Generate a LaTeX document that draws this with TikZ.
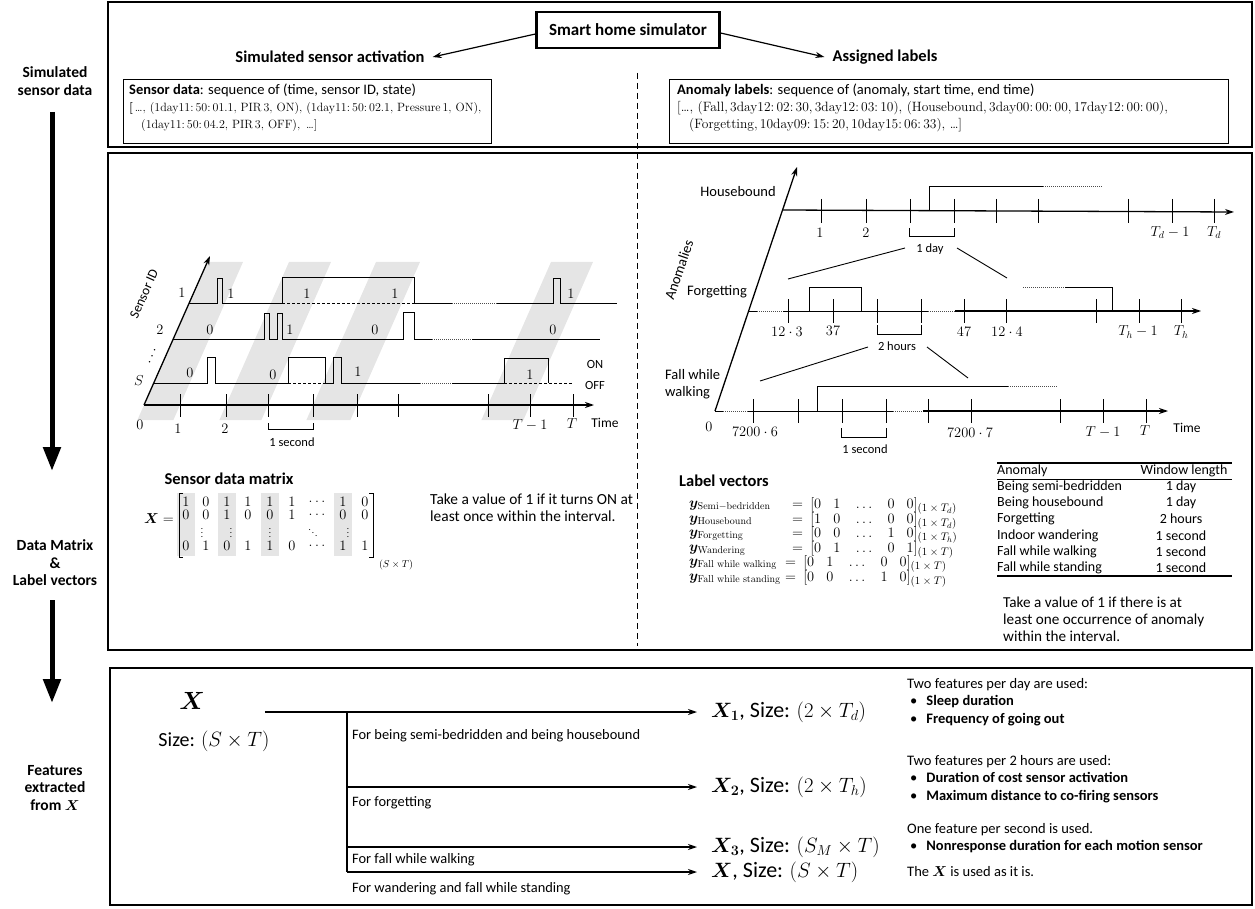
\documentclass[tikz,border=0pt]{standalone}
\usepackage{amsmath}
\usepackage{bm}
\usepackage[no-math]{fontspec}
\setmainfont{Carlito}
\newfontfamily\lmr{Latin Modern Roman}
\usetikzlibrary{arrows.meta}
\newcommand\fsz[2]{\fontsize{#1}{#2}\selectfont}
\newcommand\subsz[1]{\mbox{\fsz{11}{12}$#1$}}
\newcommand\lvec[5]{=\ [#1\hspace{12pt}#2\hspace{13pt}#3\hspace{13pt}#4\hspace{12pt}#5]}
\tikzset{
  txt/.style={inner sep=0pt, font=\fsz{13.5}{16}},
  lab/.style={inner sep=0pt, font=\fsz{14.5}{17}},
  head/.style={inner sep=0pt, font=\fsz{16.5}{19}\bfseries},
  side/.style={inner sep=0pt, font=\fsz{15.5}{17.5}\bfseries, align=center},
  sml/.style={inner sep=0pt, font=\fsz{12.5}{14}},
  mth/.style={inner sep=0pt, font=\fsz{14}{15}},
  vmth/.style={inner sep=0pt, font=\fsz{14}{15}},
  tab/.style={inner sep=0pt, font=\fsz{14}{15}},
  simbox/.style={draw, line width=2.2pt, minimum width=183pt, minimum height=36pt, inner sep=0pt, font=\fsz{17}{19}\bfseries},
  databox/.style={draw, line width=1pt, inner sep=0pt, anchor=north west},
  boxtext/.style={inner sep=0pt, align=left, anchor=west, font=\fsz{14.5}{17}},
  panel/.style={draw, line width=1.6pt},
  sep/.style={line width=1pt, dash pattern=on 6pt off 4pt},
  axis/.style={line width=1.3pt, -{Stealth[length=9pt,width=6pt]}},
  sig/.style={line width=0.9pt},
  dsig/.style={line width=0.9pt, dash pattern=on 3pt off 2pt},
  osig/.style={line width=0.9pt, black!70, dash pattern=on 1pt off 1pt},
  tk/.style={line width=0.9pt},
  band/.style={fill=black!10},
  conn/.style={line width=1.2pt, -{Stealth[length=9pt,width=6pt]}},
  big/.style={line width=5pt, -{Triangle[length=24pt,width=17pt]}},
  feat/.style={inner sep=0pt, font=\fsz{22}{24}, anchor=west},
  forl/.style={inner sep=0pt, font=\fsz{14.4}{16}, anchor=west},
  note/.style={inner sep=0pt, font=\fsz{14.5}{17.5}, align=left, anchor=west},
}
\begin{document}
\begin{tikzpicture}[x=1pt,y=-1pt]
\useasboundingbox (0,0) rectangle (1255,909);
% ---------- panels
\draw[panel] (108,2) rectangle (1252,147);
\draw[panel] (108,153) rectangle (1252,650);
\draw[panel] (110,668) rectangle (1252,905);
\draw[sep] (637,73) -- (637,646);
% ---------- left column
\node[side] (lsim) at (55,81) {Simulated\\sensor data};
\node[side] (ldm) at (55,563) {Data Matrix\\\&\\Label vectors};
\node[side] (lfe) at (55,788) {Features\\extracted\\from $\bm{X}$};
\draw[big, shorten <=31pt, shorten >=92pt] (lsim.center -| 52,0) -- (ldm.center -| 52,0);
\draw[big, shorten <=37pt, shorten >=85pt] (ldm.center -| 52,0) -- (lfe.center -| 52,0);
% ---------- top panel
\node[simbox] (sim) at (628,30) {Smart home simulator};
\node[head] (ssa) at (330,57) {Simulated sensor activation};
\node[head] (asl) at (885,57) {Assigned labels};
\draw[conn] (sim.west) ++(0,4) -- ([xshift=8pt]ssa.east);
\draw[conn] (sim.east) ++(0,3) -- ([xshift=-8pt]asl.west);
\node[databox, minimum width=368pt, minimum height=64pt] (sd) at (123,79) {};
\node[boxtext] (sdt) at (129,108)
 {\mbox{\textbf{Sensor data}: sequence of (time, sensor ID, state)}\\
  \mbox{\lmr\fsz{12}{17}\textbf{[}\,…, (1day11:\,50:\,01.1, PIR\,3, ON), (1day11:\,50:\,02.1, Pressure\,1, ON),}\\
  \mbox{\lmr\fsz{12}{17}\hspace*{12pt}(1day11:\,50:\,04.2, PIR\,3, OFF), \,…]}};
\node[databox, minimum width=559pt, minimum height=64pt] (ad) at (669,79) {};
\node[boxtext] (adt) at (677,108)
 {\mbox{\textbf{Anomaly labels}: sequence of (anomaly, start time, end time)}\\
  \mbox{\lmr\fsz{13.5}{17}[…, (Fall,\,3day12:\,02:\,30,\,3day12:\,03:\,10), (Housebound,\,3day00:\,00:\,00,\,17day12:\,00:\,00),}\\
  \mbox{\lmr\fsz{13.5}{17}\hspace*{12pt}(Forgetting,\,10day09:\,15:\,20,\,10day15:\,06:\,33), …]}};
% ---------- sensor timing diagram
\foreach \a/\b in {144/180,226/268,313/357,488/530}{
  \fill[band] (\a-6.6,420) -- (\b-6.6,420) -- (\b+63,262) -- (\a+63,262) -- cycle;
}
\draw[axis] (144,405) -- (594,405);
\draw[axis] (144,405) -- (210,256);
\node[inner sep=0pt, font=\fsz{13.5}{14}, rotate=66] (sid) at (144,294) {Sensor ID};
% row 1
\draw[sig] (189,303) -- (217,303) -- (217,278) -- (222,278) -- (222,303) -- (282,303) -- (282,277) -- (414,277) -- (414,303) -- (452,303);
\draw[dsig] (282,303) -- (414,303);
\draw[osig] (452,303) -- (497,303);
\draw[sig] (497,303) -- (553,303) -- (553,278) -- (560,278) -- (560,303) -- (617,303);
% row 2
\draw[sig] (173,339) -- (264,339) -- (264,313) -- (269,313) -- (269,339) -- (277,339) -- (277,313) -- (282,313) -- (282,339) -- (403,339) -- (403,312) -- (414,312) -- (414,339) -- (432,339);
\draw[osig] (432,339) -- (472,339);
\draw[sig] (472,339) -- (600,339);
% row S
\draw[sig] (154,383) -- (207,383) -- (207,357) -- (215,357) -- (215,383) -- (288,383) -- (288,357) -- (325,357) -- (325,383) -- (333,383) -- (333,357) -- (341,357) -- (341,383) -- (420,383);
\draw[dsig] (288,383) -- (325,383);
\draw[osig] (420,383) -- (452,383);
\draw[sig] (452,383) -- (504,383) -- (504,358) -- (548,358) -- (548,383);
\draw[dsig] (504,383) -- (573,383);
% row labels
\node[mth] (r1) at (182,293) {$1$};
\node[mth] (r2) at (160,330) {$2$};
\node[mth, rotate=66] (rd) at (153,355) {$\cdots$};
\node[mth] (rs) at (139,381) {$S$};
% pulse values
\node[mth] (v11) at (231,294) {$1$};
\node[mth] (v12) at (307,294) {$1$};
\node[mth] (v13) at (395,294) {$1$};
\node[mth] (v14) at (571,294) {$1$};
\node[mth] (v21) at (210,330) {$0$};
\node[mth] (v22) at (290,330) {$1$};
\node[mth] (v23) at (375,330) {$0$};
\node[mth] (v24) at (553,330) {$0$};
\node[mth] (v31) at (190,373) {$0$};
\node[mth] (v32) at (273,375) {$0$};
\node[mth] (v33) at (358,372) {$1$};
\node[mth] (v34) at (530,375) {$1$};
\node[sml] (on) at (595,364) {ON};
\node[sml] (off) at (595,385) {OFF};
% ticks
\foreach \x in {180,226,268,313,357,398,488,530,573} \draw[tk] (\x,394) -- (\x,417);
\node[mth] (t0) at (140,425) {$0$};
\node[mth] (t1) at (178,429) {$1$};
\node[mth] (t2) at (225,429) {$2$};
\node[mth] (tT1) at (530,425) {$T-1$};
\node[mth] (tT) at (572,424) {$T$};
\node[txt] (time1) at (605,423) {Time};
\draw[tk] (268,423) -- (268,429) -- (313,429) -- (313,423);
\node[sml] (sec1) at (292,442) {1 second};
% ---------- anomaly diagram
\draw[axis] (715,411) -- (797,167);
\node[lab, rotate=71] (anom) at (679,270) {Anomalies};
% housebound
\node[lab] (hb) at (738,192) {Housebound};
\draw[axis] (783,210) -- (1234,212);
\foreach \x in {821,866,910,954,996,1038,1128,1172,1214} \draw[tk] (\x,199) -- (\x,223);
\node[mth] (h1) at (820,233) {$1$};
\node[mth] (h2) at (866,233) {$2$};
\node[mth] (hT1) at (1170,233) {$T_d-1$};
\node[mth] (hT) at (1214,233) {$T_d$};
\draw[tk] (909,228) -- (909,236) -- (954,236) -- (954,228);
\node[sml] (day) at (930,249) {1 day};
\draw[sig] (929,211) -- (929,186) -- (1043,186);
\draw[osig] (1043,186) -- (1103,186);
\draw[sig] (788,279) -- (905,248);
\draw[sig] (957,248) -- (1007,278);
% forgetting
\node[lab] (fg) at (717,292) {Forgetting};
\draw[sig] (748,311) -- (757,311);
\draw[osig] (757,311) -- (783,311);
\draw[sig] (783,311) -- (928,311);
\draw[osig] (928,311) -- (955,311);
\draw[axis] (955,311) -- (1201,311);
\foreach \x in {788,833,877,921,964,1006,1096,1139,1181} \draw[tk] (\x,299) -- (\x,323);
\draw[sig] (809,311) -- (809,287) -- (861,287) -- (861,311);
\draw[osig] (1023,287) -- (1065,287);
\draw[sig] (1065,287) -- (1112,287) -- (1112,311);
\node[mth] (f1) at (787,332) {$12\cdot 3$};
\node[mth] (f2) at (833,331) {$37$};
\node[mth] (f3) at (964,332) {$47$};
\node[mth] (f4) at (1007,332) {$12\cdot 4$};
\node[mth] (fT1) at (1138,332) {$T_h-1$};
\node[mth] (fT) at (1181,332) {$T_h$};
\draw[tk] (877,325) -- (877,334) -- (921,334) -- (921,325);
\node[sml] (hrs) at (897,346) {2 hours};
\draw[sig] (760,381) -- (868,347);
\draw[sig] (927,347) -- (968,378);
% fall while walking
\node[lab, align=left, anchor=west] (fw) at (665,384) {Fall while\\walking};
\draw[sig] (715,411) -- (723,411);
\draw[osig] (723,411) -- (748,411);
\draw[sig] (748,411) -- (893,411);
\draw[osig] (893,411) -- (923,411);
\draw[axis] (923,411) -- (1168,411);
\foreach \x in {753,798,842,886,928,971,1060,1103,1146} \draw[tk] (\x,399) -- (\x,423);
\draw[sig] (817,411) -- (817,386) -- (1008,386);
\draw[osig] (1008,386) -- (1057,386);
\node[mth] (w0) at (709,427) {$0$};
\node[mth] (w1) at (755,432) {$7200\cdot 6$};
\node[mth] (w2) at (970,433) {$7200\cdot 7$};
\node[mth] (wT1) at (1103,432) {$T-1$};
\node[mth] (wT) at (1145,431) {$T$};
\node[txt] (time2) at (1187,428) {Time};
\draw[tk] (841,428) -- (841,437) -- (886,437) -- (886,428);
\node[sml] (sec2) at (865,449) {1 second};
% ---------- sensor data matrix
\node[head] (sdm) at (229,479) {Sensor data matrix};
\foreach \x in {186,227,270,343} \fill[band] (\x-9,493) rectangle (\x+9,556);
\node[inner sep=0pt, font=\fsz{14.5}{15}, anchor=east] (Xeq) at (174,519) {$\bm{X}=$};
\draw[tk] (183,493) -- (179,493) -- (179,557) -- (183,557);
\draw[tk] (369,493) -- (373,493) -- (373,557) -- (369,557);
\foreach \x/\v in {186/1,206/0,227/1,248/1,270/1,292/1,317/\ldots,343/1,365/0} \node[vmth] (ma\x) at (\x,502) {$\v$};
\foreach \x/\v in {186/0,206/0,227/1,248/0,270/0,292/1,317/\ldots,343/0,365/0} \node[vmth] (mb\x) at (\x,515) {$\v$};
\foreach \x/\v in {202/\vdots,231/\vdots,270/\vdots,313/\ddots,348/\vdots} \node[inner sep=0pt, font=\fsz{9}{10}] (mc\x) at (\x,530) {$\v$};
\foreach \x/\v in {186/0,206/1,227/0,248/1,270/1,292/0,317/\ldots,343/1,365/1} \node[vmth] (md\x) at (\x,546) {$\v$};
\node[inner sep=0pt, font=\fsz{10}{12}] (msub) at (396,565) {$(S\times T)$};
\node[inner sep=0pt, font=\fsz{15.4}{17}, align=left, anchor=west] (mnote) at (430,508) {Take a value of 1 if it turns ON at\\least once within the interval.};
% ---------- label vectors
\node[head, anchor=west] (lv) at (679,481) {Label vectors};
\node[vmth, anchor=west] (ya) at (689,506) {$\bm{y}_{\mathrm{Semi-bedridden}}$};
\node[vmth, anchor=west] (yb) at (689,521) {$\bm{y}_{\mathrm{Housebound}}$};
\node[vmth, anchor=west] (yc) at (689,535) {$\bm{y}_{\mathrm{Forgetting}}$};
\node[vmth, anchor=west] (yd) at (689,550) {$\bm{y}_{\mathrm{Wandering}}$};
\node[vmth, anchor=west] (ye) at (689,564) {$\bm{y}_{\mathrm{Fall\ while\ walking}}$};
\node[vmth, anchor=west] (yf) at (689,579) {$\bm{y}_{\mathrm{Fall\ while\ standing}}$};
\node[vmth, anchor=west] (za) at (792,506) {$\lvec{0}{1}{\ldots}{0}{0}_{\subsz{(1\times T_d)}}$};
\node[vmth, anchor=west] (zb) at (792,521) {$\lvec{1}{0}{\ldots}{0}{0}_{\subsz{(1\times T_d)}}$};
\node[vmth, anchor=west] (zc) at (792,535) {$\lvec{0}{0}{\ldots}{1}{0}_{\subsz{(1\times T_h)}}$};
\node[vmth, anchor=west] (zd) at (792,550) {$\lvec{0}{1}{\ldots}{0}{1}_{\subsz{(1\times T)}}$};
\node[vmth, anchor=west] (ze) at (785,564) {$\lvec{0}{1}{\ldots}{0}{0}_{\subsz{(1\times T)}}$};
\node[vmth, anchor=west] (zf) at (785,579) {$\lvec{0}{0}{\ldots}{1}{0}_{\subsz{(1\times T)}}$};
% ---------- table
\draw[line width=1.5pt] (997,463) -- (1232,463);
\node[tab, anchor=west] (th1) at (997,471) {Anomaly};
\node[tab] (th2) at (1184,471) {Window length};
\draw[line width=0.8pt] (997,479) -- (1232,479);
\foreach \y/\a/\b in {487/Being semi-bedridden/1 day,503/Being housebound/1 day,519/Forgetting/2 hours,536/Indoor wandering/1 second,552/Fall while walking/1 second,568/Fall while standing/1 second}{
  \node[tab, anchor=west] (ta\y) at (997,\y) {\a};
  \node[tab] (tb\y) at (1181,\y) {\b};
}
\draw[line width=1.5pt] (997,576) -- (1232,576);
\node[inner sep=0pt, font=\fsz{15.2}{17}, align=left, anchor=west] (lnote) at (1003,619) {Take a value of 1 if there is at\\least one occurrence of anomaly\\within the interval.};
% ---------- features panel
\node[inner sep=0pt, font=\fsz{27}{30}] (X0) at (192,701) {$\bm{X}$};
\node[inner sep=0pt, font=\fsz{20}{22}] (X0s) at (214,741) {Size: $(S\times T)$};
\node[feat] (X1) at (711,712) {$\bm{X}_{\bm{1}}$, Size: $(2\times T_d)$};
\node[feat] (X2) at (711,787) {$\bm{X}_{\bm{2}}$, Size: $(2\times T_h)$};
\node[feat] (X3) at (711,847) {$\bm{X}_{\bm{3}}$, Size: $(S_M\times T)$};
\node[feat] (X4) at (711,872) {$\bm{X}$, Size: $(S\times T)$};
\coordinate (br) at (347,712);
\draw[conn, shorten >=14pt] (X0.east) ++(60,11) -- (X1.west);
\draw[sig, line width=1.2pt] (br) -- (br |- X4.west);
\draw[conn, shorten >=14pt] (br |- X2.west) -- (X2.west);
\draw[conn, shorten >=14pt] (br |- X3.west) -- (X3.west);
\draw[conn, shorten >=14pt] (br |- X4.west) -- (X4.west);
\node[forl] (p1) at (352,736) {For being semi-bedridden and being housebound};
\node[forl] (p2) at (352,803) {For forgetting};
\node[forl] (p3) at (352,860) {For fall while walking};
\node[forl] (p4) at (352,889) {For wandering and fall while standing};
\node[note] (n1) at (907,702) {Two features per day are used:\\\hspace*{3pt}\textbullet\hspace{9pt}\textbf{Sleep duration}\\\hspace*{3pt}\textbullet\hspace{9pt}\textbf{Frequency of going out}};
\node[note] (n2) at (907,779) {Two features per 2 hours are used:\\\hspace*{3pt}\textbullet\hspace{9pt}\textbf{Duration of cost sensor activation}\\\hspace*{3pt}\textbullet\hspace{9pt}\textbf{Maximum distance to co-firing sensors}};
\node[note] (n3) at (907,838) {One feature per second is used.\\\hspace*{3pt}\textbullet\hspace{9pt}\textbf{Nonresponse duration for each motion sensor}};
\node[note] (n4) at (907,872) {The $\bm{X}$ is used as it is.};
\end{tikzpicture}
\end{document}
